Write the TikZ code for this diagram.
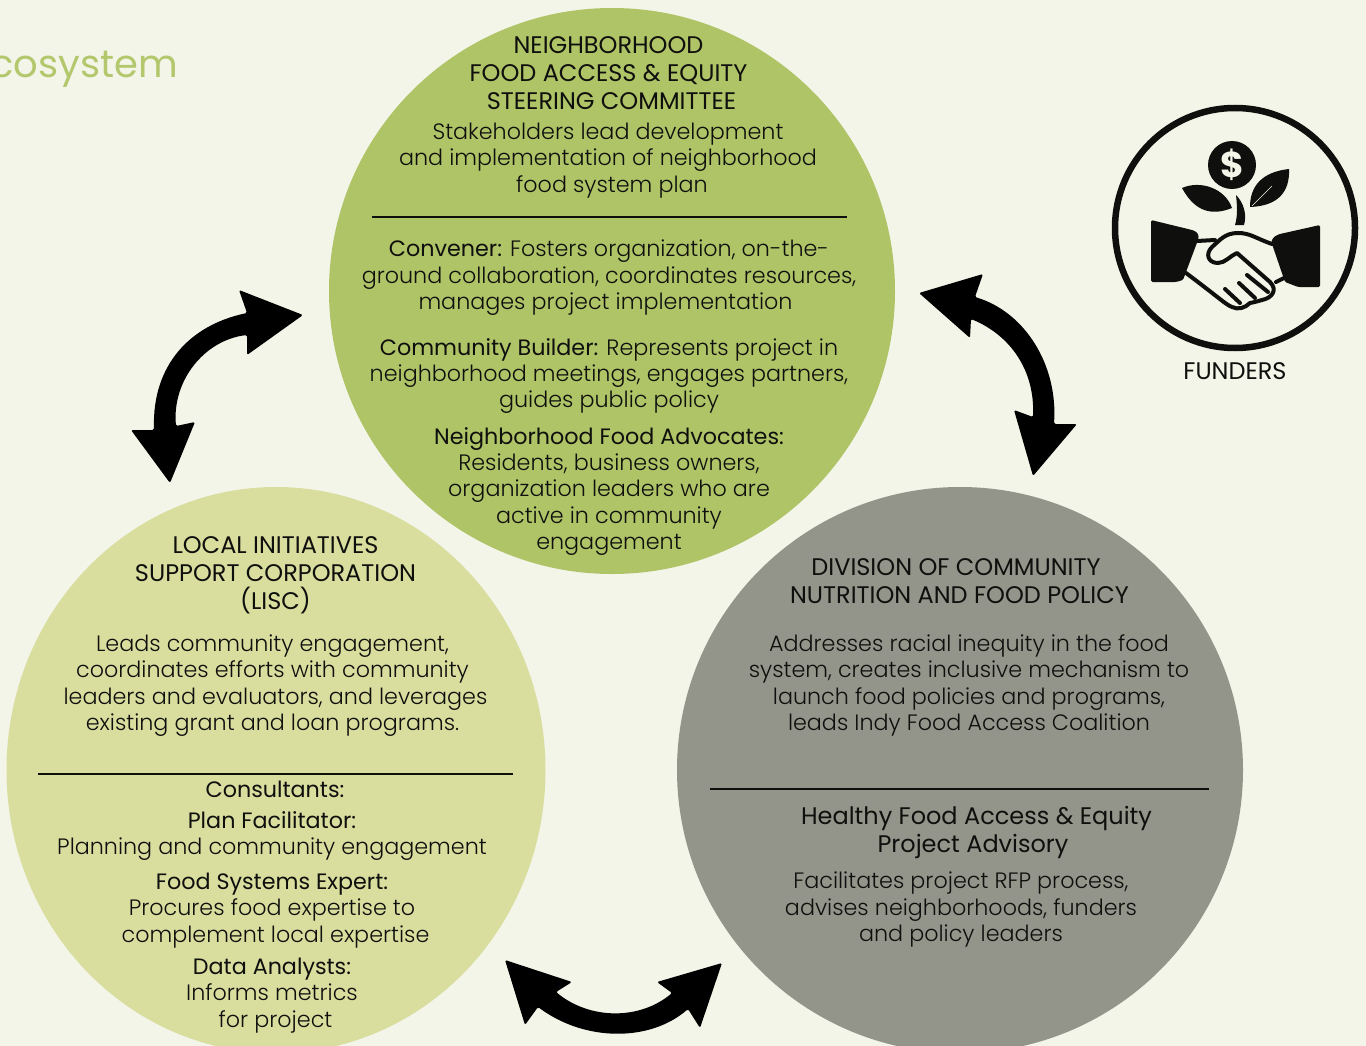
\documentclass[tikz,border=0pt]{standalone}
\usepackage{fontspec}
\usetikzlibrary{shapes.geometric}
\setmainfont{Poppins}
\newfontfamily\lightf{Poppins Light}
\definecolor{bgc}{HTML}{F3F5E8}
\definecolor{topc}{HTML}{AFC367}
\definecolor{leftc}{HTML}{D9DE9F}
\definecolor{rightc}{HTML}{93958A}
\definecolor{headc}{HTML}{B3C76C}
\definecolor{inkc}{HTML}{0F0F0D}
\tikzset{
 disc/.style={circle,inner sep=0pt,minimum size=#1,fill},
 txt/.style={align=center,inner sep=0pt,text=inkc,font=\fontsize{22.25}{26.4}\selectfont\lightf},
 ttl/.style={align=center,inner sep=0pt,text=inkc,font=\fontsize{24}{28}\selectfont},
 rulel/.style={line width=2pt,inkc},
 ico/.style={fill=inkc,draw=none},
 hand/.style={draw=inkc,line width=4pt,line cap=round,line join=round},
}
\newcommand{\bo}[1]{{\rmfamily\fontspec{Poppins} #1}}
\newcommand{\shr}[1]{\hspace*{#1pt}}
\newcommand{\shl}[1]{\mbox{}\hspace*{#1pt}}
\begin{document}
\begin{tikzpicture}[x=1pt,y=-1pt]
\useasboundingbox (0,0) rectangle (1366,1046);
\clip (0,0) rectangle (1366,1046);
\fill[bgc] (0,0) rectangle (1366,1046);
% heading fragment
\node[anchor=base east,inner sep=0pt,text=headc,font=\fontsize{38.5}{40}\selectfont] (head) at (178,78) {cosystem};
% circles
\node[disc=566pt,topc] (ctop) at (612,291) {};
\node[ellipse,fill=leftc,inner sep=0pt,minimum width=539pt,minimum height=566pt] (cleft) at (276,770) {};
\node[disc=566pt,rightc] (cright) at (960,770) {};
% arrows
\fill[black,rounded corners=1.5pt] (303,315) -- (239,290) -- (247,313) .. controls (190,325) and (152,365) .. (154,430) -- (131,430) -- (170,483) -- (195,422) -- (176,426) .. controls (172,380) and (205,340) .. (247,335) -- (247,355) -- cycle;
\fill[black,rounded corners=1.5pt] (919,293) -- (983,274) -- (975,297) .. controls (1025,312) and (1058,365) .. (1054,424) -- (1077,424) -- (1033,476) -- (1014,410) -- (1033,417) .. controls (1035,370) and (1010,335) .. (971,319) -- (970,338) -- cycle;
\fill[black,rounded corners=1.5pt] (505,960) -- (572,982) -- (556,992) .. controls (590,1020) and (640,1020) .. (672,993) -- (657,982) -- (722,963) -- (700,1028) -- (688,1009) .. controls (650,1042) and (585,1042) .. (538,1007) -- (525,1025) -- cycle;
% top circle
\node[ttl] (t1) at (608.5,73) {NEIGHBORHOOD\\FOOD ACCESS \& EQUITY\\\shl{6}STEERING COMMITTEE};
\node[txt] (t2) at (608,160.5) {Stakeholders lead development\\and implementation of neighborhood\\\shl{8}food system plan};
\coordinate (tr1) at (372,217); \coordinate (tr2) at (847,217);
\draw[rulel] (tr1) -- (tr2);
\node[txt] (t3) at (609,278) {\bo{Convener:} Fosters organization, on-the-\\ground collaboration, coordinates resources,\\manages project implementation\shr{7}};
\node[txt] (t4) at (609,376) {\bo{Community Builder:} Represents project in\\neighborhood meetings, engages partners,\\guides public policy};
\node[txt] (t5) at (609,491.5) {\bo{Neighborhood Food Advocates:}\\Residents, business owners,\\organization leaders who are\\active in community\\engagement};
% left circle
\node[ttl] (l1) at (275.5,575) {LOCAL INITIATIVES\\SUPPORT CORPORATION\\(LISC)};
\node[txt] (l2) at (272.5,685.5) {Leads community engagement,\\coordinates efforts with community\\\shl{6}leaders and evaluators, and leverages\\existing grant and loan programs.};
\coordinate (lr1) at (38,774); \coordinate (lr2) at (513,774);
\draw[rulel] (lr1) -- (lr2);
\node[txt] (l3) at (275,789) {\bo{Consultants:}};
\node[txt] (l4) at (272,836) {\bo{Plan Facilitator:}\\Planning and community engagement};
\node[txt] (l5) at (272,910.5) {\bo{Food Systems Expert:}\\Procures food expertise to\\\shl{7}complement local expertise};
\node[txt] (l6) at (272,995.5) {\bo{Data Analysts:}\\Informs metrics\\\shl{7}for project};
% right circle
\node[ttl] (r1) at (959.5,581) {DIVISION OF COMMUNITY\shr{7}\\NUTRITION AND FOOD POLICY};
\node[txt] (r2) at (969,685.5) {Addresses racial inequity in the food\\system, creates inclusive mechanism to\\launch food policies and programs,\\leads Indy Food Access Coalition};
\coordinate (rr1) at (710,789); \coordinate (rr2) at (1209,789);
\draw[rulel] (rr1) -- (rr2);
\node[ttl] (r3) at (976.5,832.5) {Healthy Food Access \& Equity\\Project Advisory\shr{7}};
\node[txt] (r4) at (961,909.5) {Facilitates project RFP process,\\advises neighborhoods, funders\\and policy leaders};
% funders icon
\node[circle,draw=inkc,line width=6.5pt,inner sep=0pt,minimum size=240pt] (ring) at (1235,228) {};
\node[disc=48pt,inkc] (coin) at (1232,165) {};
\node[inner sep=0pt,text=bgc,font=\fontsize{36}{36}\selectfont\bfseries] (dollar) at (1232,165) {\$};
\fill[ico] (1182,188) .. controls (1200,180) and (1225,188) .. (1232,208) .. controls (1212,216) and (1195,212) .. cycle;
\fill[ico] (1289,169) .. controls (1262,172) and (1250,186) .. (1250,207) .. controls (1278,206) and (1290,192) .. cycle;
\draw[bgc,line width=.6pt] (1252,206) -- (1272,186);
\fill[ico] (1236,195) .. controls (1244,203) and (1247,215) .. (1244,225) -- (1235,225) .. controls (1238,215) and (1237,205) .. cycle;
\fill[ico,rounded corners=1.5pt] (1151,220) -- (1192,230) .. controls (1198,232) and (1199,236) .. (1198,240) -- (1183,280) -- (1176,282) -- (1151,282) -- cycle;
\fill[ico,rounded corners=1.5pt] (1320,225) -- (1280,234) .. controls (1274,236) and (1271,240) .. (1272,244) -- (1285,282) -- (1298,287) -- (1320,287) -- cycle;
\draw[hand] (1197,241) -- (1215,240);
\draw[hand] (1272,244) .. controls (1255,238) and (1250,233) .. (1238,233) .. controls (1225,233) and (1220,240) .. (1212,247) .. controls (1205,254) and (1208,263) .. (1218,263) .. controls (1225,263) and (1230,256) .. (1237,253) -- (1270,282) .. controls (1278,290) and (1272,298) .. (1262,300) .. controls (1255,302) and (1255,302) .. (1250,303) .. controls (1245,308) and (1238,310) .. (1232,307) .. controls (1225,304) and (1222,300) .. (1186,273);
\draw[hand] (1225,289) -- (1240,303);
\draw[hand] (1239,283) -- (1255,298);
\draw[hand] (1247,275) -- (1268,292);
\draw[hand] (1276,282) -- (1284,278);
\node[inner sep=0pt,text=inkc,font=\fontsize{24}{26}\selectfont] (fund) at (1235,371) {FUNDERS};
\end{tikzpicture}
\end{document}
